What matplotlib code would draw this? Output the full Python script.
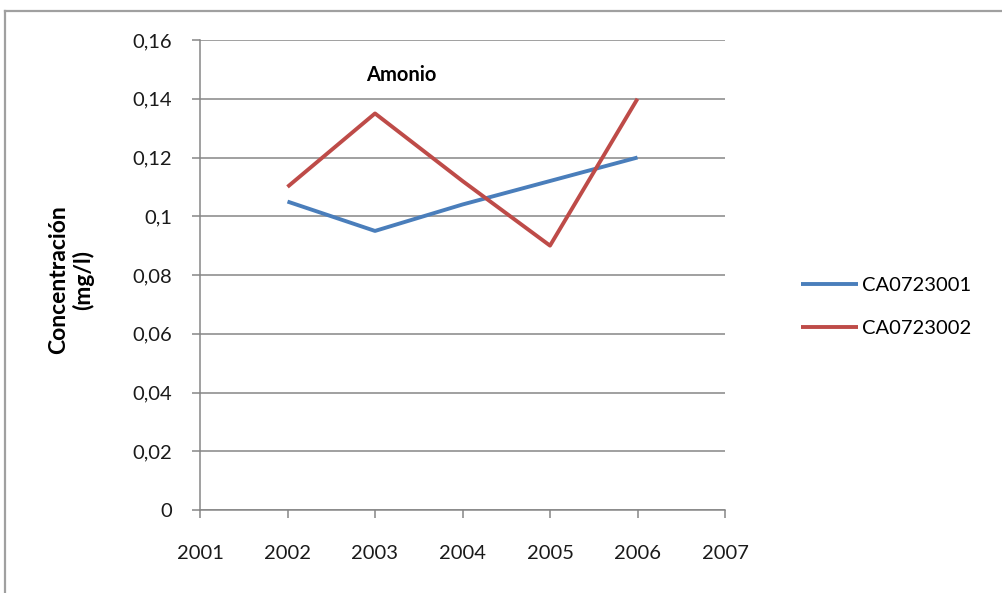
import matplotlib.pyplot as plt
from matplotlib.lines import Line2D

# data
years = [2002, 2003, 2004, 2005, 2006]
ca001 = [0.105, 0.095, 0.104, 0.112, 0.120]
ca002 = [0.110, 0.135, 0.112, 0.090, 0.140]
series_names = ['CA0723001', 'CA0723002']
yticks = [0, 0.02, 0.04, 0.06, 0.08, 0.10, 0.12, 0.14, 0.16]
ytick_labels = ['0', '0,02', '0,04', '0,06', '0,08', '0,1', '0,12', '0,14', '0,16']
xticks = [2001, 2002, 2003, 2004, 2005, 2006, 2007]

plt.rcParams['font.family'] = ['Lato', 'DejaVu Sans']

fig = plt.figure(figsize=(10.03, 5.93), dpi=100)
ax = fig.add_axes([200/1003, 1 - 510/593, 525/1003, 470/593])

grid_col = '#868686'
ax.plot(years, ca001, color='#4A7EBB', lw=2.8, label=series_names[0], solid_capstyle='butt')
ax.plot(years, ca002, color='#BE4B48', lw=2.8, label=series_names[1], solid_capstyle='butt')

ax.set_xlim(2001, 2007)
ax.set_ylim(0, 0.16)
ax.set_xticks(xticks)
ax.set_xticklabels([str(x) for x in xticks])
ax.set_yticks(yticks)
ax.set_yticklabels(ytick_labels)
ax.yaxis.grid(True, color=grid_col, lw=1.1)
ax.set_axisbelow(True)
for s in ['top', 'right']:
    ax.spines[s].set_visible(False)
for s in ['left', 'bottom']:
    ax.spines[s].set_color(grid_col)
    ax.spines[s].set_linewidth(1.1)
ax.tick_params(axis='both', colors=grid_col, length=6, width=1.1, labelsize=14.5,
               labelcolor='#1a1a1a')
ax.tick_params(axis='x', pad=19)
ax.tick_params(axis='y', pad=14)

ax.text(2003.3, 0.148, 'Amonio', fontsize=14.5, fontweight='bold', ha='center', va='center')
fig.text(71/1003, 1 - 280/593, 'Concentración\n(mg/l)', rotation=90, fontsize=16.5,
         fontweight='bold', ha='center', va='center', linespacing=1.2)

fig.legend(loc='center left', bbox_to_anchor=(783/1003, 1 - 307/593), frameon=False,
           fontsize=14.5, handlelength=2.8, handletextpad=0.2, labelspacing=1.25)

# outer chart frame: only top and left edges visible
fig.add_artist(Line2D([5/1003, 1], [1 - 11/593, 1 - 11/593], transform=fig.transFigure,
                      color='#a0a0a0', lw=1.6))
fig.add_artist(Line2D([5/1003, 5/1003], [0, 1 - 11/593], transform=fig.transFigure,
                      color='#a0a0a0', lw=1.6))

fig.savefig('out.png', dpi=100)
